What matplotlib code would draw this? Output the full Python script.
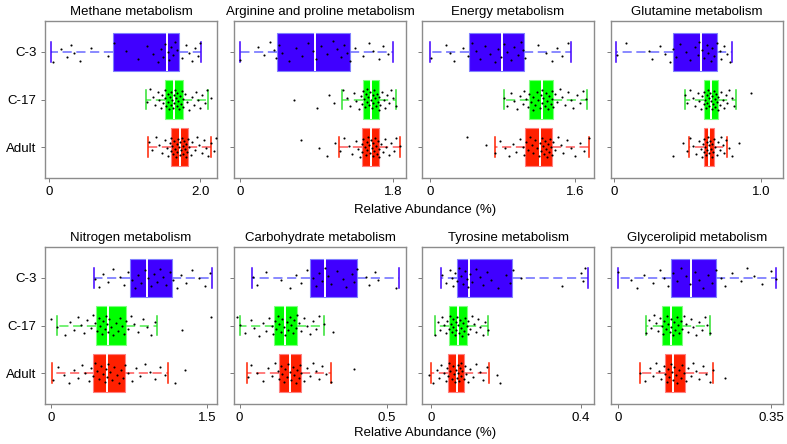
import numpy as np
import matplotlib
matplotlib.use("Agg")
import matplotlib.pyplot as plt

plt.rcParams["font.family"] = ["Liberation Sans", "DejaVu Sans"]

groups = ["C-3", "C-17", "Adult"]

titles = ["Methane metabolism", "Arginine and proline metabolism", "Energy metabolism",
          "Glutamine metabolism", "Nitrogen metabolism", "Carbohydrate metabolism",
          "Tyrosine metabolism", "Glycerolipid metabolism"]
axis_max = [2.0, 1.8, 1.6, 1.0, 1.5, 0.5, 0.4, 0.35]
max_labels = ["2.0", "1.8", "1.6", "1.0", "1.5", "0.5", "0.4", "0.35"]

# box stats per group: [whisker low, q1, median, q3, whisker high]
methane_stats = [[0.03, 0.85, 1.56, 1.72, 2.01], [1.28, 1.54, 1.66, 1.78, 2.11], [1.31, 1.62, 1.73, 1.84, 2.15]]
arginine_stats = [[0.0, 0.44, 0.88, 1.30, 1.80], [1.20, 1.45, 1.54, 1.64, 1.83], [1.17, 1.44, 1.54, 1.64, 1.88]]
energy_stats = [[0.0, 0.43, 0.79, 1.03, 1.55], [0.81, 1.09, 1.23, 1.36, 1.73], [0.71, 1.05, 1.21, 1.34, 1.76]]
glutamine_stats = [[0.016, 0.40, 0.59, 0.70, 0.80], [0.48, 0.61, 0.66, 0.71, 0.83], [0.51, 0.61, 0.645, 0.68, 0.77]]
nitrogen_stats = [[0.41, 0.76, 0.92, 1.16, 1.55], [0.056, 0.43, 0.55, 0.72, 1.02], [0.007, 0.40, 0.54, 0.71, 1.13]]
carbo_stats = [[0.043, 0.24, 0.29, 0.40, 0.54], [0.0, 0.116, 0.153, 0.194, 0.287], [0.026, 0.135, 0.172, 0.209, 0.312]]
tyrosine_stats = [[0.026, 0.069, 0.102, 0.216, 0.418], [0.011, 0.049, 0.072, 0.097, 0.153], [0.0, 0.045, 0.069, 0.089, 0.155]]
glycero_stats = [[0.0, 0.12, 0.167, 0.224, 0.361], [0.064, 0.10, 0.12, 0.147, 0.211], [0.05, 0.108, 0.126, 0.154, 0.218]]

# individual samples
methane_c3 = [0.05, 0.16, 0.24, 0.29, 0.33, 0.41, 0.55, 0.78, 0.86, 1.02, 1.18, 1.30, 1.38, 1.44, 1.48, 1.51,
              1.54, 1.57, 1.59, 1.62, 1.64, 1.67, 1.70, 1.76, 1.81, 1.86, 1.90, 1.94, 1.97, 2.00]
methane_c17 = [1.30, 1.34, 1.38, 1.41, 1.44, 1.46, 1.48, 1.50, 1.51, 1.53, 1.54, 1.55, 1.57, 1.58, 1.59, 1.60,
               1.61, 1.62, 1.63, 1.64, 1.65, 1.66, 1.67, 1.68, 1.69, 1.70, 1.71, 1.72, 1.73, 1.75, 1.76, 1.77,
               1.78, 1.80, 1.83, 1.86, 1.89, 1.92, 1.95, 1.97, 2.00, 2.03, 2.06, 2.09, 2.14]
methane_adult = [1.32, 1.37, 1.42, 1.46, 1.50, 1.53, 1.56, 1.58, 1.60, 1.61, 1.62, 1.63, 1.64, 1.66, 1.67, 1.68,
                 1.69, 1.70, 1.71, 1.72, 1.73, 1.74, 1.75, 1.76, 1.77, 1.78, 1.79, 1.80, 1.81, 1.82, 1.83, 1.84,
                 1.86, 1.88, 1.90, 1.93, 1.96, 1.99, 2.02, 2.05, 2.08, 2.11, 2.14, 2.19, 2.21]

arginine_c3 = [0.00, 0.21, 0.29, 0.35, 0.40, 0.43, 0.46, 0.50, 0.58, 0.66, 0.73, 0.80, 0.86, 0.90, 0.95, 1.02,
               1.09, 1.14, 1.19, 1.23, 1.26, 1.29, 1.35, 1.45, 1.52, 1.57, 1.63, 1.68, 1.74]
arginine_c17 = [0.64, 0.91, 1.05, 1.11, 1.21, 1.26, 1.30, 1.34, 1.37, 1.40, 1.42, 1.44, 1.45, 1.46, 1.47, 1.48,
                1.49, 1.50, 1.51, 1.52, 1.53, 1.54, 1.55, 1.56, 1.57, 1.58, 1.59, 1.60, 1.61, 1.62, 1.63, 1.64,
                1.65, 1.67, 1.69, 1.71, 1.73, 1.75, 1.78, 1.80, 1.83]
arginine_adult = [0.72, 0.93, 1.03, 1.12, 1.18, 1.23, 1.28, 1.32, 1.36, 1.39, 1.41, 1.43, 1.44, 1.45, 1.47, 1.48,
                  1.49, 1.50, 1.51, 1.52, 1.53, 1.54, 1.55, 1.56, 1.57, 1.58, 1.59, 1.60, 1.61, 1.62, 1.63, 1.64,
                  1.66, 1.68, 1.70, 1.72, 1.75, 1.78, 1.81, 1.84, 1.88]

energy_c3 = [0.01, 0.17, 0.22, 0.26, 0.36, 0.42, 0.46, 0.50, 0.55, 0.60, 0.66, 0.71, 0.75, 0.78, 0.81, 0.85,
             0.89, 0.93, 0.97, 1.00, 1.02, 1.05, 1.19, 1.28, 1.35, 1.40, 1.46, 1.52]
energy_c17 = [0.81, 0.85, 0.89, 0.93, 0.96, 0.99, 1.02, 1.04, 1.06, 1.08, 1.09, 1.11, 1.13, 1.14, 1.16, 1.18,
              1.19, 1.21, 1.22, 1.23, 1.24, 1.25, 1.27, 1.28, 1.29, 1.30, 1.31, 1.33, 1.34, 1.35, 1.36, 1.38,
              1.40, 1.43, 1.46, 1.49, 1.52, 1.55, 1.58, 1.62, 1.66, 1.69, 1.72]
energy_adult = [0.41, 0.61, 0.72, 0.77, 0.82, 0.87, 0.91, 0.95, 0.99, 1.02, 1.04, 1.06, 1.08, 1.10, 1.12, 1.14,
                1.16, 1.18, 1.20, 1.21, 1.22, 1.23, 1.25, 1.26, 1.27, 1.28, 1.29, 1.30, 1.31, 1.32, 1.33, 1.34,
                1.36, 1.38, 1.41, 1.44, 1.47, 1.51, 1.55, 1.60, 1.65, 1.70, 1.75]

glutamine_c3 = [0.02, 0.08, 0.24, 0.26, 0.31, 0.35, 0.38, 0.40, 0.42, 0.45, 0.49, 0.52, 0.55, 0.57, 0.58, 0.60,
                0.61, 0.63, 0.64, 0.66, 0.67, 0.68, 0.70, 0.72, 0.73, 0.75, 0.77, 0.79]
glutamine_c17 = [0.48, 0.50, 0.52, 0.54, 0.55, 0.57, 0.58, 0.59, 0.60, 0.61, 0.615, 0.62, 0.625, 0.63, 0.635,
                 0.64, 0.645, 0.65, 0.655, 0.66, 0.665, 0.67, 0.675, 0.68, 0.685, 0.69, 0.695, 0.70, 0.705, 0.71,
                 0.72, 0.73, 0.74, 0.75, 0.76, 0.77, 0.78, 0.80, 0.82, 0.93]
glutamine_adult = [0.40, 0.47, 0.50, 0.52, 0.54, 0.56, 0.58, 0.59, 0.60, 0.605, 0.61, 0.615, 0.62, 0.625, 0.63,
                   0.635, 0.64, 0.645, 0.65, 0.655, 0.66, 0.665, 0.67, 0.675, 0.68, 0.69, 0.70, 0.71, 0.72, 0.73,
                   0.74, 0.75, 0.76, 0.78, 0.80, 0.85]

nitrogen_c3 = [0.42, 0.46, 0.50, 0.55, 0.60, 0.66, 0.70, 0.74, 0.78, 0.81, 0.84, 0.87, 0.90, 0.93, 0.96, 0.99,
               1.02, 1.05, 1.08, 1.11, 1.14, 1.17, 1.21, 1.25, 1.30, 1.36, 1.42, 1.48, 1.53]
nitrogen_c17 = [0.00, 0.06, 0.13, 0.18, 0.22, 0.26, 0.29, 0.32, 0.35, 0.38, 0.40, 0.42, 0.44, 0.46, 0.47, 0.49,
                0.50, 0.52, 0.53, 0.54, 0.55, 0.56, 0.58, 0.60, 0.62, 0.64, 0.66, 0.68, 0.70, 0.72, 0.74, 0.77,
                0.80, 0.84, 0.88, 0.92, 0.96, 1.00, 1.26, 1.54]
nitrogen_adult = [0.02, 0.07, 0.12, 0.17, 0.22, 0.26, 0.30, 0.33, 0.36, 0.38, 0.40, 0.42, 0.44, 0.46, 0.48, 0.50,
                  0.52, 0.53, 0.54, 0.55, 0.57, 0.59, 0.61, 0.63, 0.65, 0.67, 0.69, 0.71, 0.74, 0.78, 0.82, 0.86,
                  0.90, 0.95, 1.00, 1.05, 1.10, 1.19, 1.29]

carbo_c3 = [0.045, 0.06, 0.09, 0.14, 0.17, 0.19, 0.21, 0.23, 0.25, 0.26, 0.27, 0.28, 0.29, 0.30, 0.31, 0.33,
            0.35, 0.36, 0.38, 0.39, 0.40, 0.43, 0.44, 0.46, 0.47, 0.53]
carbo_c17 = [-0.01, 0.00, 0.02, 0.04, 0.05, 0.065, 0.08, 0.09, 0.10, 0.11, 0.115, 0.12, 0.125, 0.13, 0.135, 0.14,
             0.145, 0.15, 0.155, 0.16, 0.165, 0.17, 0.175, 0.18, 0.185, 0.19, 0.195, 0.20, 0.21, 0.22, 0.23,
             0.24, 0.25, 0.26, 0.27, 0.285, 0.318]
carbo_adult = [0.03, 0.04, 0.06, 0.08, 0.095, 0.11, 0.12, 0.13, 0.135, 0.14, 0.145, 0.15, 0.155, 0.16, 0.165,
               0.17, 0.175, 0.18, 0.185, 0.19, 0.195, 0.20, 0.205, 0.21, 0.22, 0.23, 0.24, 0.25, 0.26, 0.27,
               0.28, 0.295, 0.31, 0.389]

tyrosine_c3 = [0.03, 0.04, 0.05, 0.055, 0.06, 0.065, 0.07, 0.075, 0.08, 0.085, 0.09, 0.095, 0.10, 0.105, 0.11,
               0.12, 0.13, 0.14, 0.15, 0.16, 0.18, 0.20, 0.21, 0.22, 0.24, 0.35, 0.40, 0.405, 0.41]
tyrosine_c17 = [0.012, 0.018, 0.024, 0.03, 0.035, 0.04, 0.044, 0.048, 0.05, 0.053, 0.056, 0.058, 0.06, 0.063,
                0.066, 0.068, 0.07, 0.072, 0.074, 0.077, 0.08, 0.083, 0.086, 0.089, 0.092, 0.095, 0.098, 0.10,
                0.105, 0.11, 0.115, 0.12, 0.125, 0.13, 0.138, 0.145, 0.152]
tyrosine_adult = [-0.005, 0.005, 0.015, 0.022, 0.028, 0.034, 0.039, 0.043, 0.046, 0.049, 0.052, 0.055, 0.058,
                  0.061, 0.064, 0.067, 0.069, 0.071, 0.073, 0.075, 0.077, 0.079, 0.081, 0.084, 0.087, 0.09,
                  0.094, 0.099, 0.105, 0.112, 0.12, 0.13, 0.14, 0.15, 0.177, 0.185]

glycero_c3 = [0.0, 0.03, 0.043, 0.06, 0.08, 0.095, 0.105, 0.115, 0.125, 0.135, 0.145, 0.155, 0.165, 0.175,
              0.185, 0.195, 0.205, 0.215, 0.225, 0.235, 0.245, 0.26, 0.28, 0.295, 0.31, 0.33, 0.35, 0.36]
glycero_c17 = [0.064, 0.07, 0.076, 0.082, 0.087, 0.092, 0.096, 0.10, 0.103, 0.106, 0.109, 0.112, 0.115, 0.118,
               0.12, 0.122, 0.125, 0.128, 0.131, 0.134, 0.137, 0.14, 0.143, 0.146, 0.15, 0.155, 0.16, 0.166,
               0.172, 0.178, 0.185, 0.192, 0.198, 0.204, 0.21]
glycero_adult = [0.05, 0.062, 0.072, 0.08, 0.087, 0.093, 0.099, 0.104, 0.108, 0.111, 0.114, 0.117, 0.12, 0.123,
                 0.126, 0.129, 0.132, 0.135, 0.139, 0.143, 0.147, 0.151, 0.155, 0.16, 0.166, 0.172, 0.179, 0.186,
                 0.194, 0.202, 0.21, 0.218, 0.245]

all_stats = [methane_stats, arginine_stats, energy_stats, glutamine_stats,
             nitrogen_stats, carbo_stats, tyrosine_stats, glycero_stats]
all_points = [
    [methane_c3, methane_c17, methane_adult],
    [arginine_c3, arginine_c17, arginine_adult],
    [energy_c3, energy_c17, energy_adult],
    [glutamine_c3, glutamine_c17, glutamine_adult],
    [nitrogen_c3, nitrogen_c17, nitrogen_adult],
    [carbo_c3, carbo_c17, carbo_adult],
    [tyrosine_c3, tyrosine_c17, tyrosine_adult],
    [glycero_c3, glycero_c17, glycero_adult],
]

box_colors = ["#4000ff", "#00ff00", "#ff2000"]
edge_colors = ["#8080ff", "#80ff80", "#ff8080"]
whisker_colors = ["#6a6aff", "#50ee50", "#ff5a5a"]
positions = [3, 2, 1]

W, H = 787, 444
fig = plt.figure(figsize=(W / 100, H / 100), dpi=100)

lefts = [45, 234, 422, 611]
axw = 172
rows = [(21, 178), (247, 404)]

for i in range(8):
    r, c = divmod(i, 4)
    top, bot = rows[r]
    ax = fig.add_axes([lefts[c] / W, 1 - bot / H, axw / W, (bot - top) / H])
    m = axis_max[i]

    stats = []
    for g in range(3):
        lo, q1, med, q3, hi = all_stats[i][g]
        stats.append(dict(whislo=lo, q1=q1, med=med, q3=q3, whishi=hi, fliers=[], label=groups[g]))

    bp = ax.bxp(stats, positions=positions, orientation="horizontal", widths=0.8,
                patch_artist=True, showfliers=False, capwidths=0.42)
    for g in range(3):
        bp["boxes"][g].set(facecolor=box_colors[g], edgecolor=edge_colors[g], linewidth=0.8)
        bp["medians"][g].set(color="white", linewidth=1.4)
        for w in bp["whiskers"][2 * g:2 * g + 2]:
            w.set(color=whisker_colors[g], linestyle=(0, (6, 3)), linewidth=1.1)
        for cap in bp["caps"][2 * g:2 * g + 2]:
            cap.set(color=box_colors[g] if g != 1 else "#30e030", linewidth=1.1)

    # jittered sample dots
    for g in range(3):
        vals = np.array(all_points[i][g])
        k = np.arange(len(vals))
        jit = ((k * 0.6180339 + 0.37 * g + 0.11 * i) % 1.0 - 0.5) * 0.44
        ax.scatter(vals, positions[g] + jit, s=2.3, color="black", linewidths=0, zorder=5)

    pad_l = [0.053, 0.067, 0.093, 0.02, 0.059, 0.019, 0.024, 0.016][i]
    pad_r = [0.225, 0.152, 0.21, 0.15, 0.097, 0.065, 0.035, 0.027][i]
    ax.set_xlim(-pad_l, m + pad_r)
    ax.set_ylim(0.35, 3.65)
    ax.set_xticks([0, m])
    ax.set_xticklabels(["0", max_labels[i]], fontsize=9.5)
    ax.set_yticks(positions)
    if c == 0:
        ax.set_yticklabels(groups, fontsize=9.5)
    else:
        ax.set_yticklabels([])
    ax.tick_params(axis="both", length=3, width=0.6, color="#666666", pad=3)
    for s in ax.spines.values():
        s.set_color("#8c8c8c")
        s.set_linewidth(1.0)
    ax.set_title(titles[i], fontsize=9.5, pad=4)

fig.text(425 / W, 1 - 210 / H, "Relative Abundance (%)", ha="center", va="center", fontsize=9.5)
fig.text(425 / W, 1 - 433 / H, "Relative Abundance (%)", ha="center", va="center", fontsize=9.5)

fig.savefig("out.png", dpi=100)
